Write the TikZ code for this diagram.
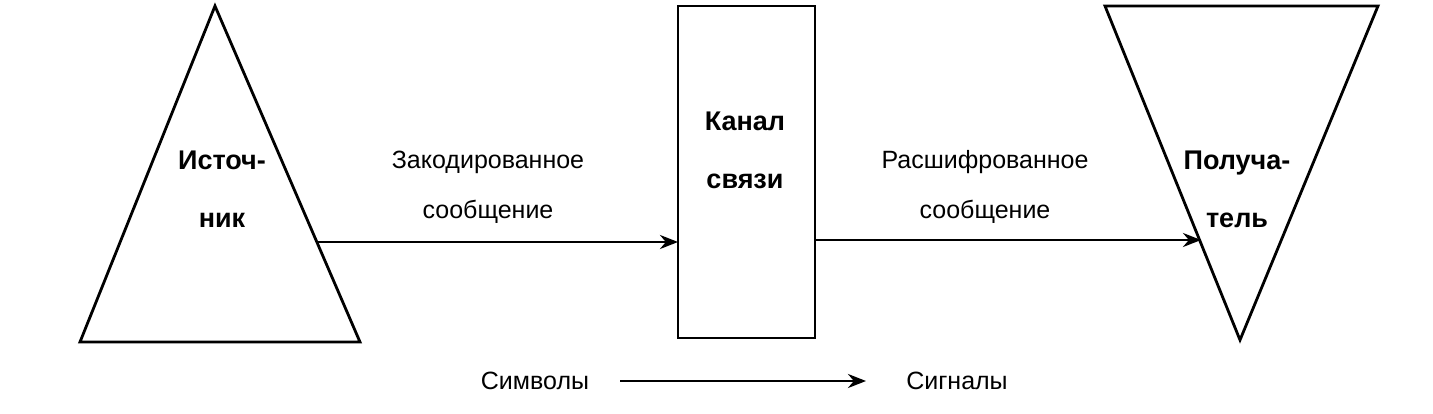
\documentclass[tikz,border=0pt]{standalone}
\usepackage{fontspec}
\setmainfont{Liberation Sans}
\usetikzlibrary{arrows.meta}
\tikzset{every picture/.style={line width=2.8pt}}
\tikzset{lbl/.style={inner sep=0.75pt,align=center,font=\fontsize{25}{50}\selectfont},
  blbl/.style={inner sep=0.75pt,align=center,font=\bfseries\fontsize{27}{58}\selectfont},
  flow/.style={-{Stealth[length=18pt,width=14pt]}}}
\begin{document}
\begin{tikzpicture}[x=1pt,y=1pt,yscale=-1,xscale=1]
\useasboundingbox (0,0) rectangle (1433,413);

%Shape: Triangle [id:source]
\draw (215,6) -- (360,342) -- (80,342) -- cycle ;
%Shape: Rectangle [id:channel]
\draw (678,6) rectangle (815,338) ;
%Shape: Triangle [id:receiver]
\draw (1105,6) -- (1378,6) -- (1240,340) -- cycle ;

%Points
\coordinate (srcout) at (318,242) ;
\coordinate (chin) at (678,242) ;
\coordinate (chout) at (815,240) ;
\coordinate (rcvin) at (1201,240) ;
\coordinate (symend) at (620,381) ;
\coordinate (sigend) at (866,381) ;

%Straight Lines
\draw [flow] (srcout) -- (chin) ;
\draw [flow] (chout) -- (rcvin) ;
\draw [flow] (symend) -- (sigend) ;

% Text Node
\node (source) at (222,189) [blbl] {Источ-\\ник};
% Text Node
\node (channel) at (745,150) [blbl] {Канал\\связи};
% Text Node
\node (receiver) at (1237,189) [blbl] {Получа-\\тель};
% Text Node
\node (coded) at (488,187) [lbl] {Закодированное\\сообщение};
% Text Node
\node (decoded) at (985,187) [lbl] {Расшифрованное\\сообщение};
% Text Node
\node (symbols) at (535,381) [lbl] {Символы};
% Text Node
\node (signals) at (957,381) [lbl] {Сигналы};

\end{tikzpicture}
\end{document}
